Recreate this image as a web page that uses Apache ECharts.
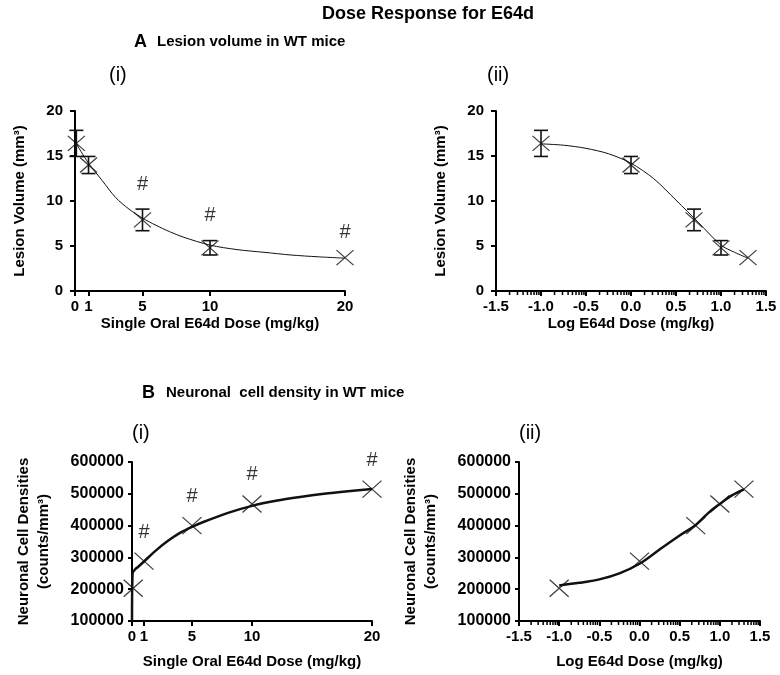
<!DOCTYPE html>
<html>
<head>
<meta charset="utf-8">
<script src="https://cdn.jsdelivr.net/npm/echarts@6/dist/echarts.min.js"></script>
<style>
  html, body { margin: 0; padding: 0; background: #fff; }
  #chart { width: 780px; height: 675px; }
</style>
</head>
<body>
<div id="chart"></div>
<script>
// doses and their log values
var doses = [0.1, 1, 5, 10, 20];
var logDoses = [-1, 0, 0.7, 1.0, 1.3];

// panel A: lesion volume (mm3), mean and error
var lesionMean = [16.4, 14.0, 7.9, 4.8, 3.7];
var lesionErr = [1.45, 0.95, 1.2, 0.8, 0];
var lesionSig = ["", "", "#", "#", "#"];

var curveALinX = [0.1, 1, 2, 3, 4, 5, 6, 7, 8, 10, 12, 14, 16, 18, 20];
var curveALinY = [16.35, 14.2, 12.3, 10.4, 9.1, 8.1, 7.3, 6.6, 6.0, 5.1, 4.6, 4.3, 4.0, 3.8, 3.65];
var curveALogX = [-1, -0.75, -0.5, -0.25, 0, 0.25, 0.5, 0.75, 1.0, 1.15, 1.3];
var curveALogY = [16.35, 16.2, 15.85, 15.25, 14.2, 12.5, 10.1, 7.6, 5.1, 4.3, 3.65];

// panel B: neuronal cell density (counts/mm3)
var densityMean = [203000, 288000, 400000, 468000, 515000];
var densitySig = ["", "#", "#", "#", "#"];

var curveBLinX = [0, 0.05, 0.25, 0.5, 1, 2, 3, 4, 5, 6, 8, 10, 12, 14, 16, 18, 20];
var curveBLinY = [100000, 250000, 262000, 270000, 287000, 322000, 352000, 377000, 396000, 412000, 440000, 462000, 478000, 490000, 500000, 508000, 515000];
var curveBLogX = [-1, -0.75, -0.5, -0.25, 0, 0.25, 0.5, 0.7, 0.875, 1.0, 1.15, 1.3];
var curveBLogY = [212000, 220000, 231000, 250000, 280000, 325000, 369000, 402000, 444000, 468000, 495000, 514000];

// tick labels
var linTicks = [0, 1, 5, 10, 20];

var FONT = "'Liberation Sans', Arial, sans-serif";
var chart = echarts.init(document.getElementById("chart"));

// log-style minor ticks inside every 0.5 step
var minorLog = [];
for (var a = -1.5; a < 1.5; a += 0.5) {
  for (var k = 2; k <= 9; k++) minorLog.push(+(a + 0.5 * Math.log10(k)).toFixed(4));
}

function zip(xs, ys) {
  return xs.map(function (x, i) { return [x, ys[i]]; });
}

var axisLineStyle = { color: "#000", width: 2 };
var tickLabel = { color: "#000", fontFamily: FONT, fontWeight: "bold", fontSize: 15 };
var nameStyle = { color: "#000", fontFamily: FONT, fontWeight: "bold", fontSize: 15 };

function xLinAxis(grid, gap) {
  return {
    gridIndex: grid, type: "value", min: 0, max: 20, position: "bottom",
    name: "Single Oral E64d Dose (mg/kg)", nameLocation: "middle", nameGap: gap, nameTextStyle: nameStyle,
    axisLine: { onZero: false, lineStyle: axisLineStyle },
    axisTick: { customValues: linTicks, length: 5, lineStyle: { width: 2, color: "#000" } },
    axisLabel: Object.assign({ customValues: linTicks, margin: 8, hideOverlap: false }, tickLabel),
    splitLine: { show: false }
  };
}
function xLogAxis(grid, gap) {
  return {
    gridIndex: grid, type: "value", min: -1.5, max: 1.5, interval: 0.5, position: "bottom",
    name: "Log E64d Dose (mg/kg)", nameLocation: "middle", nameGap: gap, nameTextStyle: nameStyle,
    axisLine: { onZero: false, lineStyle: axisLineStyle },
    axisTick: { length: 5, lineStyle: { width: 2, color: "#000" } },
    axisLabel: Object.assign({ margin: 8, formatter: function (v) { return v.toFixed(1); } }, tickLabel),
    splitLine: { show: false }
  };
}
function yLesion(grid) {
  return {
    gridIndex: grid, type: "value", min: 0, max: 20, interval: 5,
    name: "Lesion Volume (mm³)", nameLocation: "middle", nameRotate: 90, nameGap: 48, nameTextStyle: nameStyle,
    axisLine: { show: true, onZero: false, lineStyle: axisLineStyle },
    axisTick: { show: true, length: 5, lineStyle: { width: 2, color: "#000" } },
    axisLabel: Object.assign({ margin: 12 }, tickLabel),
    splitLine: { show: false }
  };
}
function yDensity(grid) {
  return {
    gridIndex: grid, type: "value", min: 100000, max: 600000, interval: 100000,
    name: "Neuronal Cell Densities\n(counts/mm³)", nameLocation: "middle", nameRotate: 90, nameGap: 78,
    nameTextStyle: Object.assign({ lineHeight: 20 }, nameStyle),
    axisLine: { show: true, onZero: false, lineStyle: axisLineStyle },
    axisTick: { show: true, length: 4, lineStyle: { width: 2, color: "#000" } },
    axisLabel: Object.assign({}, tickLabel, { margin: 8, fontSize: 16, formatter: function (v) { return String(v); } }),
    splitLine: { show: false }
  };
}

var crossPath = "path://M0,0L10,10M10,0L0,10";

function markers(xi, yi, xs, ys, size) {
  return {
    type: "scatter", xAxisIndex: xi, yAxisIndex: yi, data: zip(xs, ys),
    symbol: crossPath, symbolSize: size, z: 5,
    itemStyle: { color: "none", borderColor: "#111", borderWidth: 1.2 }
  };
}
function curve(xi, yi, xs, ys, w) {
  return {
    type: "line", xAxisIndex: xi, yAxisIndex: yi, data: zip(xs, ys),
    showSymbol: false, smooth: 0.3, z: 4,
    lineStyle: { color: "#111", width: w }
  };
}
function errorBars(xi, yi, xs, ys, es) {
  return {
    type: "custom", xAxisIndex: xi, yAxisIndex: yi, z: 6,
    data: xs.map(function (x, i) { return [x, ys[i], es[i]]; }),
    encode: { x: 0, y: 1 },
    renderItem: function (params, api) {
      var x = api.value(0), y = api.value(1), e = api.value(2);
      if (!e) return;
      var top = api.coord([x, y + e]);
      var bot = api.coord([x, y - e]);
      var h = 7;
      var st = { stroke: "#111", lineWidth: 1.6 };
      return {
        type: "group",
        children: [
          { type: "line", shape: { x1: top[0], y1: top[1], x2: bot[0], y2: bot[1] }, style: st },
          { type: "line", shape: { x1: top[0] - h, y1: top[1], x2: top[0] + h, y2: top[1] }, style: st },
          { type: "line", shape: { x1: bot[0] - h, y1: bot[1], x2: bot[0] + h, y2: bot[1] }, style: st }
        ]
      };
    }
  };
}
// small ticks under a log axis, placed through the x scale
function minorTicks(xi, yi, yBase) {
  return {
    type: "custom", xAxisIndex: xi, yAxisIndex: yi, z: 8, clip: false,
    data: minorLog.map(function (v) { return [v, yBase]; }),
    encode: { x: 0, y: 1 },
    renderItem: function (params, api) {
      var p = api.coord([api.value(0), api.value(1)]);
      return {
        type: "line",
        shape: { x1: p[0], y1: p[1], x2: p[0], y2: p[1] + 4 },
        style: { stroke: "#000", lineWidth: 1.5 }
      };
    }
  };
}
function sigLabels(xi, yi, xs, ys, es, sig, off) {
  return {
    type: "scatter", xAxisIndex: xi, yAxisIndex: yi, symbolSize: 1, z: 7,
    itemStyle: { color: "rgba(0,0,0,0)" },
    data: xs.map(function (x, i) { return { value: [x, ys[i] + (es ? es[i] : 0)], sig: sig[i] }; })
      .filter(function (d) { return d.sig; }),
    label: {
      show: true, position: "inside", offset: [0, -off],
      formatter: "#", color: "#000", fontFamily: FONT, fontSize: 20
    }
  };
}

function txt(x, y, text, size, weight, align) {
  return {
    type: "text", x: x, y: y,
    style: { text: text, fill: "#000", font: (weight || "normal") + " " + size + "px " + FONT,
      align: align || "left", verticalAlign: "middle" }
  };
}

var option = {
  backgroundColor: "#fff",
  animation: false,
  graphic: [
    txt(322, 14, "Dose Response for E64d", 18, "bold"),
    txt(134, 42, "A", 18, "bold"),
    txt(157, 42, "Lesion volume in WT mice", 15, "bold"),
    txt(109, 75, "(i)", 20),
    txt(487, 75, "(ii)", 20),
    txt(142, 393, "B", 18, "bold"),
    txt(166, 393, "Neuronal  cell density in WT mice", 15, "bold"),
    txt(132, 433, "(i)", 20),
    txt(519, 433, "(ii)", 20)
  ],
  grid: [
    { left: 75, top: 111, width: 270, height: 180 },
    { left: 496, top: 111, width: 270, height: 180 },
    { left: 132, top: 462, width: 240, height: 159 },
    { left: 519, top: 462, width: 241, height: 159 }
  ],
  xAxis: [
    xLinAxis(0, 25),
    xLogAxis(1, 25),
    xLinAxis(2, 33),
    xLogAxis(3, 33)
  ],
  yAxis: [yLesion(0), yLesion(1), yDensity(2), yDensity(3)],
  series: [
    curve(0, 0, curveALinX, curveALinY, 1),
    errorBars(0, 0, doses, lesionMean, lesionErr),
    markers(0, 0, doses, lesionMean, [17, 15]),
    sigLabels(0, 0, doses, lesionMean, lesionErr, lesionSig, 25),

    curve(1, 1, curveALogX, curveALogY, 1),
    errorBars(1, 1, logDoses, lesionMean, lesionErr),
    markers(1, 1, logDoses, lesionMean, [17, 15]),
    minorTicks(1, 1, 0),

    curve(2, 2, curveBLinX, curveBLinY, 2.5),
    markers(2, 2, doses, densityMean, [19, 17]),
    sigLabels(2, 2, doses, densityMean, null, densitySig, 29),

    curve(3, 3, curveBLogX, curveBLogY, 2.5),
    markers(3, 3, logDoses, densityMean, [19, 17]),
    minorTicks(3, 3, 100000)
  ]
};

chart.setOption(option);
</script>
</body>
</html>
